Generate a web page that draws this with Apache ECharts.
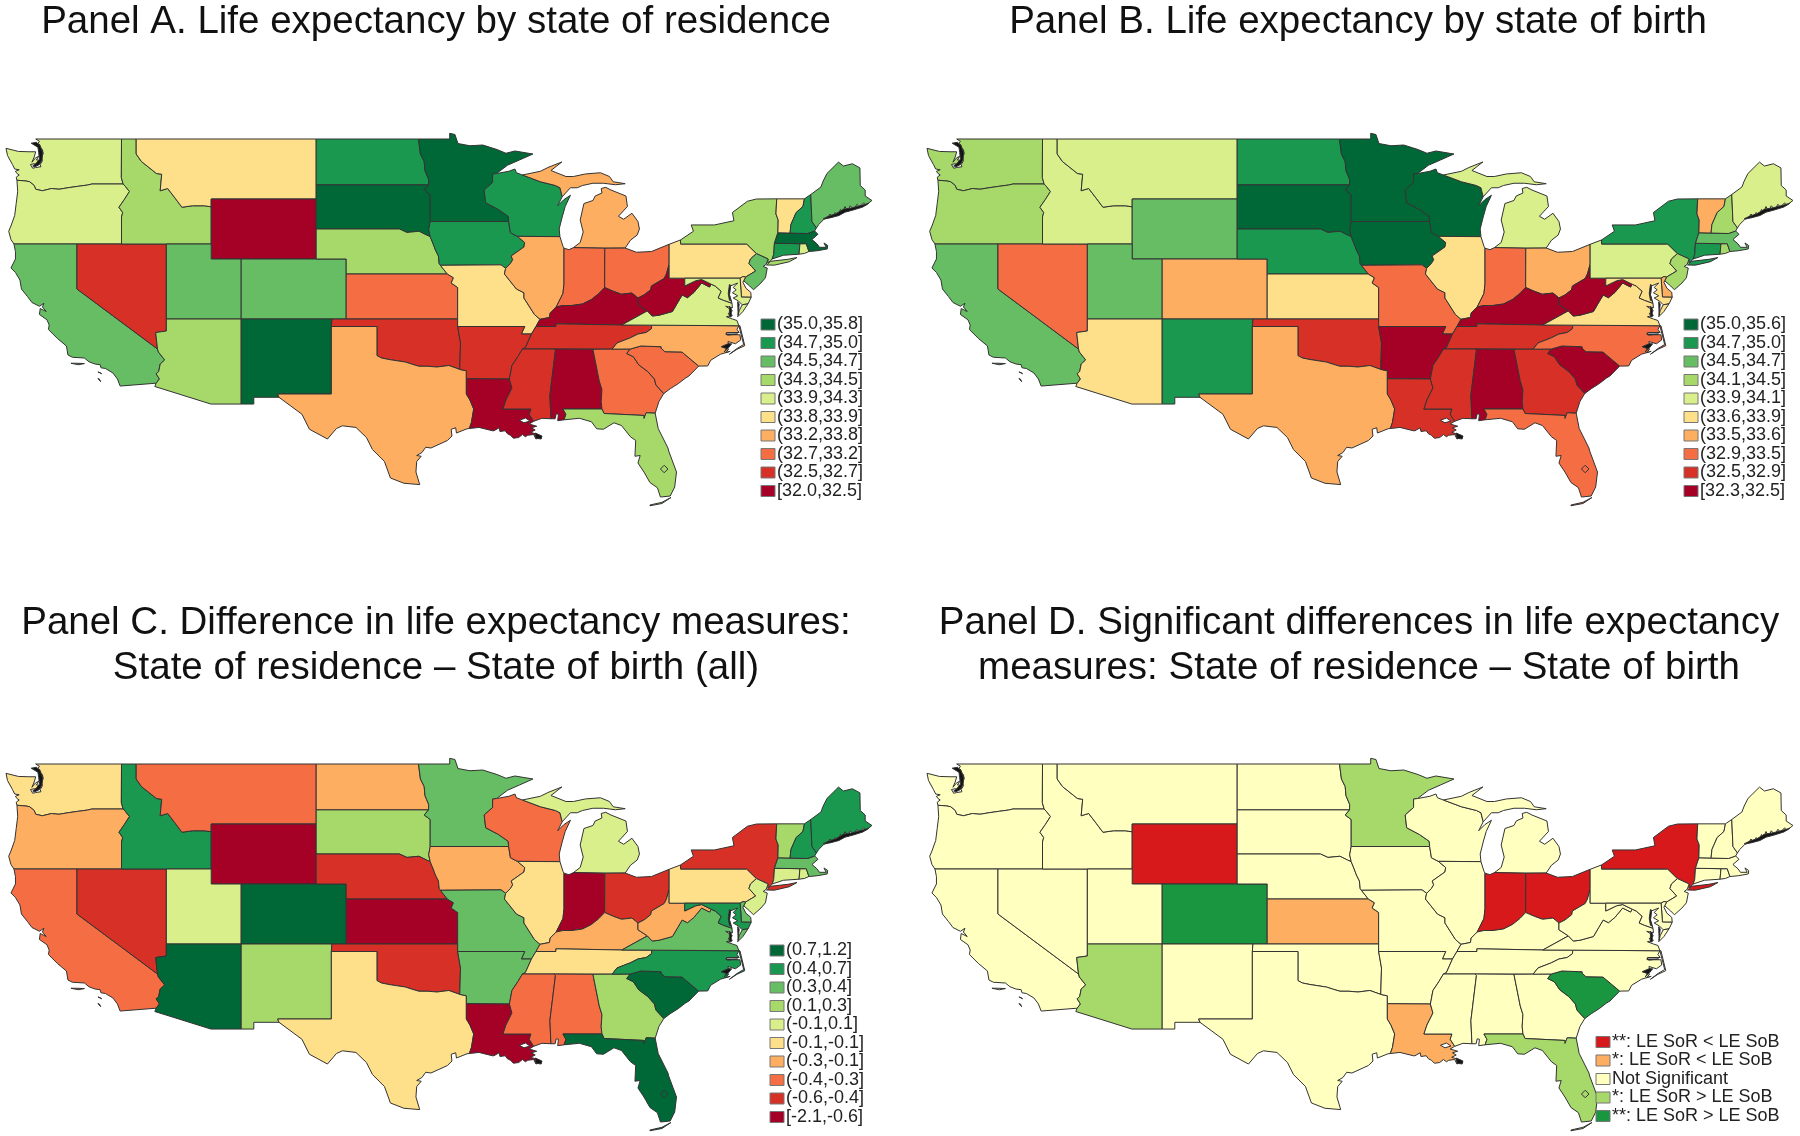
<!DOCTYPE html>
<html>
<head>
<meta charset="utf-8">
<style>html,body{margin:0;padding:0;background:#fff}#c{width:1800px;height:1136px}</style>
<script src="https://cdn.jsdelivr.net/npm/echarts@6/dist/echarts.min.js"></script>
</head>
<body>
<div id="c"></div>
<script>
// ---------- chart values (class index into each panel's legend) ----------
const states = ['WA','OR','CA','NV','ID','MT','WY','UT','AZ','CO','NM','ND','SD','NE','KS','OK','TX','MN','IA','MO','AR','LA','WI','IL','MI','IN','OH','KY','TN','MS','AL','GA','FL','SC','NC','VA','WV','PA','NY','NJ','DE','MD','CT','RI','MA','VT','NH','ME'];
const panelAClass = [4,4,2,8,3,5,9,2,3,2,0,1,0,3,7,8,6,0,1,5,8,9,1,6,6,7,7,9,8,8,9,7,3,7,6,4,9,5,3,2,5,4,1,4,0,5,1,2];
const panelBClass = [3,3,2,7,4,4,2,2,5,6,1,1,0,1,5,8,6,0,0,7,9,8,0,5,4,7,6,9,8,8,9,8,7,9,7,5,9,4,1,3,6,5,1,3,2,6,3,4];
const panelCClass = [5,6,7,8,1,7,9,4,0,0,3,6,3,8,9,8,5,2,6,2,2,9,7,5,4,9,8,6,5,7,7,3,0,0,1,2,6,5,8,4,2,1,4,4,2,3,1,1];
const panelDClass = [2,2,2,2,2,2,0,2,3,4,2,2,2,2,1,2,2,3,2,2,2,1,2,2,2,0,0,2,2,2,2,2,3,4,2,2,2,2,0,2,2,2,2,2,2,2,2,2];
const panelALabels = ['(35.0,35.8]','(34.7,35.0]','(34.5,34.7]','(34.3,34.5]','(33.9,34.3]','(33.8,33.9]','(33.2,33.8]','(32.7,33.2]','(32.5,32.7]','[32.0,32.5]'];
const panelBLabels = ['(35.0,35.6]','(34.7,35.0]','(34.5,34.7]','(34.1,34.5]','(33.9,34.1]','(33.6,33.9]','(33.5,33.6]','(32.9,33.5]','(32.5,32.9]','[32.3,32.5]'];
const panelCLabels = ['(0.7,1.2]','(0.4,0.7]','(0.3,0.4]','(0.1,0.3]','(-0.1,0.1]','(-0.1,-0.1]','(-0.3,-0.1]','(-0.4,-0.3]','(-0.6,-0.4]','[-2.1,-0.6]'];
const panelDLabels = ['**: LE SoR < LE SoB','*: LE SoR < LE SoB','Not Significant','*: LE SoR > LE SoB','**: LE SoR > LE SoB'];
const palette10 = ['#006837','#1a9850','#66bd63','#a6d96a','#d9ef8b','#fee08b','#fdae61','#f46d43','#d73027','#a50026'];
const palette5 = ['#d7191c','#fdae61','#ffffbf','#a6d96a','#1a9641'];
const titles = ['Panel A. Life expectancy by state of residence','Panel B. Life expectancy by state of birth','Panel C. Difference in life expectancy measures:\nState of residence \u2013 State of birth (all)','Panel D. Significant differences in life expectancy\nmeasures: State of residence \u2013 State of birth'];

// ---------- basemap: shared state borders in lon/lat ----------
const arcs = {
waCoast:[[-122.75,49],[-122.5,48.85],[-122.6,48.7],[-122.45,48.6],[-122.55,48.45],[-122.3,48.3],[-122.25,48.0],[-122.4,47.8],[-122.3,47.55],[-122.45,47.3],[-122.4,47.15],[-122.75,47.1],[-122.95,47.05],[-123.1,47.3],[-122.85,47.35],[-122.6,47.3],[-122.55,47.6],[-122.7,47.6],[-122.55,47.85],[-122.75,47.75],[-123.0,47.45],[-122.85,47.8],[-122.75,48.15],[-123.2,48.15],[-123.9,48.17],[-124.73,48.38],[-124.63,47.9],[-124.3,47.3],[-124.15,47.0],[-123.85,46.95],[-124.1,46.85],[-124.0,46.7],[-123.85,46.6],[-124.05,46.45],[-124.0,46.25]],
waOr:[[-124.0,46.25],[-123.4,46.2],[-123.15,46.15],[-122.85,45.9],[-122.75,45.65],[-122.3,45.55],[-121.7,45.7],[-121.2,45.65],[-120.6,45.75],[-119.9,45.85],[-119.3,45.93],[-119.0,46.0],[-116.92,46.0]],
waId:[[-117.03,49],[-117.04,46.42],[-116.92,46.0]],
orCoast:[[-124.0,46.25],[-123.95,45.5],[-124.05,44.7],[-124.15,43.9],[-124.4,43.2],[-124.55,42.85],[-124.4,42.3],[-124.2,42]],
orCa:[[-124.2,42],[-120,42]],
orNv:[[-120,42],[-117.03,42]],
orId:[[-116.92,46.0],[-116.78,45.85],[-116.5,45.5],[-116.85,44.95],[-117.2,44.45],[-116.95,44.1],[-117.03,43.8],[-117.03,42]],
caCoast:[[-124.2,42],[-124.1,41.5],[-124.1,41.0],[-124.4,40.4],[-124.1,40.1],[-123.8,39.6],[-123.7,39.0],[-123.3,38.5],[-123.0,38.1],[-122.5,37.85],[-122.2,38.05],[-122.3,37.8],[-122.05,37.5],[-122.45,37.7],[-122.5,37.3],[-122.0,36.95],[-121.85,36.6],[-121.9,36.3],[-121.3,35.7],[-120.7,35.2],[-120.6,34.6],[-120.3,34.45],[-119.5,34.4],[-119.2,34.15],[-118.8,34.0],[-118.45,33.95],[-118.4,33.75],[-118.1,33.7],[-117.6,33.4],[-117.3,33.0],[-117.12,32.53]],
caNv:[[-120,42],[-120,39],[-114.63,35]],
caAz:[[-114.63,35],[-114.57,34.8],[-114.15,34.27],[-114.45,34.0],[-114.55,33.5],[-114.72,33.35],[-114.5,33.0],[-114.72,32.72]],
caMex:[[-114.72,32.72],[-117.12,32.53]],
nvId:[[-117.03,42],[-114.04,42]],
nvUt:[[-114.04,42],[-114.04,37]],
nvAz:[[-114.04,37],[-114.04,36.2],[-114.75,36.1],[-114.63,35]],
idMt:[[-116.05,49],[-116.05,48],[-115.7,47.5],[-114.7,46.7],[-114.35,46.65],[-114.45,45.55],[-113.95,45.7],[-113.45,45.05],[-113.0,44.45],[-112.3,44.55],[-111.5,44.55],[-111.05,44.48]],
idWy:[[-111.05,44.48],[-111.05,42]],
idUt:[[-111.05,42],[-114.04,42]],
ndMn:[[-97.23,49],[-97.1,48],[-96.85,47.5],[-96.8,46.9],[-96.55,46.3],[-96.56,45.94]],
mnNorth:[[-97.23,49],[-95.15,49],[-95.15,49.38],[-94.8,49.3],[-94.6,48.7],[-93.8,48.55],[-92.95,48.6],[-92.0,48.3],[-91.4,48.05],[-90.8,48.2],[-89.6,48.0],[-90.5,47.6],[-91.3,47.25],[-92.02,46.7]],
sdMn:[[-96.56,45.94],[-96.85,45.6],[-96.45,45.3],[-96.45,43.5]],
sdIa:[[-96.45,43.5],[-96.55,42.95],[-96.45,42.49]],
sdNe:[[-104.05,43],[-98.5,43],[-98.0,42.77],[-97.2,42.85],[-96.7,42.6],[-96.45,42.49]],
neIa:[[-96.45,42.49],[-96.25,42.0],[-96.1,41.6],[-95.9,41.2],[-95.85,40.7],[-95.77,40.58]],
neMo:[[-95.77,40.58],[-95.31,40]],
ksMo:[[-95.31,40],[-94.9,39.75],[-95.05,39.4],[-94.62,39.1],[-94.62,37]],
okAr:[[-94.62,36.5],[-94.43,35.4],[-94.48,33.64]],
okTx:[[-94.48,33.64],[-95.2,33.9],[-96.0,33.8],[-96.6,33.85],[-97.2,33.85],[-97.7,34.0],[-98.1,34.13],[-99.2,34.3],[-99.7,34.4],[-100,34.56],[-100,36.5],[-103.04,36.5]],
txGulf:[[-106.53,31.78],[-105.0,30.65],[-104.5,29.65],[-103.3,29.0],[-102.7,29.7],[-102.3,29.88],[-101.4,29.77],[-100.7,29.1],[-100.3,28.3],[-99.5,27.5],[-99.1,26.4],[-98.2,26.05],[-97.15,25.96],[-97.4,26.8],[-97.35,27.5],[-97.05,27.85],[-97.35,27.9],[-97.0,28.1],[-96.75,28.45],[-96.4,28.4],[-95.3,28.9],[-95.0,29.2],[-95.05,29.65],[-94.75,29.75],[-94.7,29.4],[-94.0,29.68],[-93.84,29.7]],
txLa:[[-93.84,29.7],[-93.7,30.1],[-93.55,31.0],[-93.8,31.6],[-94.04,32.0],[-94.04,33.02]],
txAr:[[-94.04,33.02],[-94.04,33.55],[-94.48,33.64]],
mnWi:[[-92.02,46.7],[-92.29,46.66],[-92.29,46.1],[-92.85,45.6],[-92.75,44.75],[-91.9,44.3],[-91.25,43.85],[-91.22,43.5]],
iaWi:[[-91.22,43.5],[-91.1,42.75],[-90.64,42.51]],
iaIl:[[-90.64,42.51],[-90.15,42.1],[-90.2,41.8],[-91.05,41.2],[-90.95,40.95],[-91.1,40.7],[-91.42,40.38]],
iaMo:[[-91.42,40.38],[-91.73,40.61],[-95.77,40.58]],
moIl:[[-91.42,40.38],[-91.5,40.0],[-90.7,39.0],[-90.2,38.75],[-90.2,38.4],[-89.5,37.3],[-89.13,36.98]],
moKy:[[-89.13,36.98],[-89.4,36.5]],
moTn:[[-89.4,36.5],[-89.7,36.0]],
moAr:[[-94.62,36.5],[-90.15,36.5],[-90.37,36.0],[-89.7,36.0]],
arTn:[[-89.7,36.0],[-90.1,35.1],[-90.3,35.0]],
arMs:[[-90.3,35.0],[-90.6,34.5],[-91.0,33.9],[-91.17,33.0]],
laMs:[[-91.17,33.0],[-91.0,32.4],[-91.4,31.6],[-91.6,31.0],[-89.73,31.0],[-89.85,30.65],[-89.55,30.18]],
laCoast:[[-89.55,30.18],[-89.85,30.0],[-89.35,29.85],[-89.7,29.75],[-89.45,29.6],[-89.75,29.45],[-89.3,29.3],[-89.0,29.15],[-89.4,29.0],[-89.55,29.3],[-89.95,29.25],[-90.1,29.15],[-90.3,29.3],[-90.55,29.1],[-90.9,29.05],[-91.1,29.25],[-91.3,29.35],[-91.45,29.55],[-91.8,29.5],[-91.85,29.75],[-92.2,29.55],[-92.3,29.55],[-93.2,29.77],[-93.84,29.7]],
msAl:[[-88.2,35],[-88.1,34.9],[-88.47,31.9],[-88.4,30.35]],
msCoast:[[-89.55,30.18],[-89.0,30.38],[-88.4,30.35]],
alGa:[[-85.6,34.98],[-85.18,32.87],[-85.0,32.3],[-85.05,31.5],[-85.0,31.0]],
alFl:[[-85.0,31.0],[-87.6,31.0],[-87.4,30.65],[-87.52,30.28]],
alCoast:[[-87.52,30.28],[-87.95,30.22],[-87.9,30.65],[-88.05,30.68],[-88.12,30.35],[-88.4,30.35]],
gaSc:[[-83.11,35],[-83.35,34.7],[-82.9,34.48],[-82.55,33.95],[-81.95,33.5],[-81.5,33.0],[-81.4,32.6],[-80.88,32.03]],
gaCoast:[[-80.88,32.03],[-81.2,31.5],[-81.45,30.72]],
gaFl:[[-81.45,30.72],[-82.05,30.75],[-82.2,30.37],[-82.2,30.57],[-84.86,30.7],[-85.0,31.0]],
flCoast:[[-87.52,30.28],[-86.5,30.38],[-85.7,30.15],[-85.35,29.68],[-84.9,29.65],[-84.2,30.08],[-83.7,29.9],[-83.1,29.15],[-82.75,28.9],[-82.8,27.85],[-82.45,27.9],[-82.6,27.4],[-82.2,26.8],[-81.8,26.1],[-81.3,25.75],[-81.1,25.13],[-80.45,25.2],[-80.15,25.8],[-80.03,26.8],[-80.55,28.2],[-80.6,28.4],[-81.25,29.7],[-81.45,30.72]],
ncSc:[[-83.11,35],[-82.4,35.2],[-81.05,35.15],[-81.05,35.05],[-80.8,34.82],[-79.67,34.8],[-78.55,33.86]],
scCoast:[[-78.55,33.86],[-79.2,33.2],[-79.45,33.05],[-79.9,32.7],[-80.45,32.35],[-80.88,32.03]],
ncCoast:[[-75.87,36.55],[-76.0,36.3],[-75.85,36.1],[-76.7,36.1],[-76.7,35.95],[-75.8,35.95],[-75.75,35.6],[-76.1,35.35],[-76.6,35.5],[-76.55,35.3],[-77.0,35.15],[-76.55,35.0],[-76.75,34.75],[-76.45,34.85],[-77.1,34.65],[-77.75,34.25],[-77.95,33.87],[-78.55,33.86]],
tnNc:[[-81.68,36.59],[-81.7,36.35],[-82.05,36.1],[-82.6,36.0],[-83.1,35.75],[-84.0,35.4],[-84.32,34.99]],
ilKy:[[-88.05,37.8],[-88.45,37.4],[-88.5,37.1],[-89.13,36.98]],
ilIn:[[-87.53,41.72],[-87.53,39.35],[-87.6,38.7],[-87.95,38.0],[-88.05,37.8]],
ilLake:[[-87.8,42.49],[-87.6,41.85],[-87.53,41.72]],
inKy:[[-84.82,39.1],[-85.2,38.7],[-85.7,38.3],[-86.3,38.0],[-87.0,37.9],[-87.6,37.9],[-88.05,37.8]],
ohKy:[[-82.6,38.4],[-83.0,38.73],[-83.7,38.65],[-84.25,38.85],[-84.82,39.1]],
ohWv:[[-80.52,40.64],[-80.7,40.0],[-80.85,39.7],[-81.7,39.2],[-81.75,38.95],[-82.2,38.6],[-82.6,38.4]],
kyWv:[[-82.6,38.4],[-82.6,37.95],[-81.97,37.54]],
vaWv:[[-81.97,37.54],[-81.65,37.2],[-81.2,37.25],[-80.3,37.5],[-79.95,38.1],[-79.65,38.6],[-79.3,38.42],[-78.87,38.77],[-78.35,39.4],[-77.83,39.13],[-77.72,39.32]],
vaMd:[[-77.72,39.32],[-77.45,39.2],[-77.05,38.85],[-77.25,38.4],[-76.9,38.25],[-76.33,38.05]],
wvMd:[[-79.48,39.72],[-79.48,39.2],[-78.75,39.55],[-78.35,39.63],[-77.72,39.32]],
wiMi:[[-90.3,46.6],[-89.1,46.15],[-88.1,45.9],[-87.8,45.75],[-87.65,45.15]],
wiLake:[[-87.65,45.15],[-87.95,44.55],[-87.55,44.95],[-87.1,45.25],[-87.45,44.5],[-87.65,43.8],[-87.85,43.0],[-87.8,42.49]],
paNj:[[-74.7,41.36],[-75.1,41.0],[-75.2,40.7],[-74.75,40.2],[-75.42,39.8]],
nyVt:[[-73.35,45.01],[-73.4,44.0],[-73.25,43.6],[-73.27,42.75]],
vtNh:[[-71.5,45.01],[-71.6,44.5],[-72.05,44.1],[-72.4,43.3],[-72.46,42.73]],
nhMe:[[-71.08,45.3],[-71.0,43.5],[-70.7,43.07]]
};
const shapes = {
WA:[['waCoast','waOr','-waId']],
OR:[['orCoast','orCa','orNv','-orId','-waOr']],
CA:[['caCoast','-caMex','-caAz','-caNv','-orCa'],[[-120.4,34.05],[-119.9,33.95],[-119.5,34.03],[-120.0,34.05]],[[-118.6,33.47],[-118.35,33.35],[-118.45,33.42]],[[-118.6,33.03],[-118.42,32.82],[-118.5,33.0]]],
NV:[['orNv','nvId','nvUt','nvAz','-caNv']],
ID:[[[-117.03,49],'idMt','idWy','idUt','-nvId','-orId','-waId']],
MT:[[[-116.05,49],[-104.05,49],[-104.05,45],[-111.05,45],'-idMt']],
WY:[[[-111.05,45],[-104.05,45],[-104.05,41],[-111.05,41]]],
UT:[[[-114.04,42],[-111.05,42],[-111.05,41],[-109.05,41],[-109.05,37],[-114.04,37]]],
AZ:[[[-114.04,37],[-109.05,37],[-109.05,31.33],[-111.07,31.33],[-114.81,32.5],'-caAz','-nvAz']],
CO:[[[-109.05,41],[-102.05,41],[-102.05,37],[-109.05,37]]],
NM:[[[-109.05,37],[-103,37],[-103.04,36.5],[-103.04,32],[-106.62,32],[-106.53,31.78],[-108.21,31.78],[-108.21,31.33],[-109.05,31.33]]],
ND:[[[-104.05,49],'ndMn',[-104.05,45.94]]],
SD:[[[-104.05,45.94],'sdMn','sdIa','-sdNe']],
NE:[['sdNe','neIa','neMo',[-102.05,40],[-102.05,41],[-104.05,41]]],
KS:[[[-102.05,40],'ksMo',[-102.05,37]]],
OK:[[[-103,37],[-94.62,37],'okAr','okTx']],
TX:[[[-103.04,36.5],[-103.04,32],[-106.62,32],'txGulf','txLa','txAr','okTx']],
MN:[['mnNorth','mnWi',[-96.45,43.5],'-sdMn','-ndMn']],
IA:[[[-96.45,43.5],'iaWi','iaIl','iaMo','-neIa','-sdIa']],
MO:[['-iaMo','moIl','moKy','moTn','-moAr',[-94.62,37],'-ksMo','-neMo']],
AR:[['moAr','arTn','arMs','txAr','-okAr']],
LA:[[[-94.04,33.02],'laMs','laCoast','txLa'],'hole:lakeP'],
WI:[[[-92.02,46.7],[-91.2,46.85],[-90.8,47.0],[-90.7,46.75],'wiMi','wiLake',[-90.64,42.51],'-iaWi','-mnWi']],
IL:[[[-90.64,42.51],'ilLake','ilIn','ilKy','-moIl','-iaIl']],
MI:[[[-86.9,41.76],[-86.45,42.1],[-86.25,42.8],[-86.45,43.6],[-86.2,44.7],[-85.6,44.9],[-85.45,45.2],[-85.0,45.4],[-85.05,45.7],[-84.75,45.78],[-84.4,45.6],[-83.4,45.2],[-83.3,44.5],[-83.9,43.85],[-83.55,43.65],[-83.0,44.05],[-82.6,43.5],[-82.5,43.0],[-82.65,42.6],[-83.1,42.25],[-83.45,41.73],[-84.81,41.72]],
    [[-89.1,46.85],[-88.6,47.1],[-87.67,47.47],[-88.4,46.9],[-87.4,46.5],[-86.9,46.5],[-86.1,46.67],[-85.1,46.75],[-84.5,46.5],[-84.25,46.15],[-83.45,46.02],[-84.1,45.95],[-84.9,46.05],[-85.6,46.05],[-86.3,45.9],[-86.65,45.75],[-87.1,45.75],'-wiMi']],
IN:[[[-87.53,41.72],[-87.2,41.62],[-86.9,41.76],[-84.81,41.72],'inKy','-ilIn']],
OH:[[[-84.81,41.72],[-83.45,41.73],[-82.7,41.45],[-81.7,41.5],[-80.52,41.98],'ohWv','ohKy']],
KY:[['-moKy','-ilKy','-inKy','-ohKy','kyWv',[-83.68,36.6],[-88.07,36.68],[-88.07,36.5]]],
TN:[[[-89.4,36.5],[-88.07,36.5],[-88.07,36.68],[-83.68,36.6],'tnNc',[-88.2,35],'-arTn','-moTn']],
MS:[[[-90.3,35],'msAl','-msCoast','-laMs','-arMs']],
AL:[[[-88.2,35],'alGa','alFl','alCoast','-msAl']],
GA:[[[-85.6,34.98],'gaSc','gaCoast','gaFl','-alGa']],
FL:[['flCoast','gaFl','alFl'],[[-81.8,24.55],[-81.0,24.7],[-80.4,25.1],[-80.45,25.15],[-81.0,24.78],[-81.8,24.6]]],
SC:[['ncSc','scCoast','-gaSc']],
NC:[[[-84.32,34.99],'ncSc','-ncCoast','tnNc'],[[-75.87,36.55],[-75.55,35.3],[-76.0,35.03],[-76.5,34.65],[-76.52,34.62],[-76.0,34.98],[-75.48,35.22],[-75.8,36.55]]],
VA:[['vaWv','vaMd',[-76.3,37.75],[-76.75,37.85],[-76.3,37.55],[-76.6,37.35],[-76.3,37.25],[-76.7,37.15],[-76.3,37.0],[-76.0,36.9],[-75.87,36.55],[-81.68,36.59],[-83.68,36.6]],[[-75.95,37.15],[-75.85,37.55],[-75.65,37.95],[-75.25,38.03],[-75.6,37.5]]],
WV:[[[-80.52,40.64],[-80.52,39.72],'wvMd','-vaWv','-kyWv','-ohWv']],
PA:[[[-80.52,41.98],[-79.76,42.27],[-79.76,42],[-75.35,42],'paNj',[-75.6,39.83],[-75.79,39.72],[-80.52,39.72],[-80.52,40.64]]],
NY:[[[-79.76,42.27],[-78.9,42.85],[-79.05,43.27],[-77.5,43.27],[-76.2,43.55],[-76.3,44.1],[-75.3,44.85],[-74.7,45.0],'nyVt',[-73.5,42.05],[-73.55,41.3],[-73.65,41.0],[-73.85,40.8],[-73.95,40.75],[-73.92,41.0],[-74.7,41.36],[-75.35,42],[-79.76,42]],[[-74.03,40.6],[-73.75,40.85],[-72.6,40.98],[-72.0,41.1],[-72.5,40.82],[-73.5,40.59]]],
NJ:[[[-73.92,41.0],[-74.05,40.65],[-74.25,40.5],[-73.98,40.4],[-74.1,39.75],[-74.4,39.4],[-74.9,38.95],[-75.15,39.2],[-75.55,39.55],'-paNj']],
DE:[[[-75.79,39.72],[-75.6,39.83],[-75.42,39.8],[-75.6,39.45],[-75.4,39.05],[-75.08,38.78],[-75.05,38.45],[-75.7,38.46]]],
MD:[[[-79.48,39.72],[-75.79,39.72],[-75.7,38.46],[-75.05,38.45],[-75.25,38.03],[-75.65,37.95],[-75.9,38.2],[-76.25,38.4],[-75.95,38.55],[-76.3,38.75],[-76.05,38.95],[-76.25,39.1],[-75.95,39.4],[-76.45,39.2],[-76.5,38.6],[-76.4,38.3],'-vaMd','-wvMd']],
CT:[[[-73.5,42.05],[-71.8,42.02],[-71.86,41.32],[-72.9,41.25],[-73.65,41.0],[-73.55,41.3]]],
RI:[[[-71.8,42.02],[-71.38,42.02],[-71.2,41.5],[-71.5,41.37],[-71.86,41.32]]],
MA:[[[-73.27,42.75],[-72.46,42.73],[-71.3,42.7],[-70.82,42.87],[-70.6,42.65],[-71.0,42.3],[-70.65,42.0],[-70.5,41.78],[-70.05,41.78],[-70.2,42.07],[-69.95,41.9],[-69.98,41.67],[-70.65,41.55],[-71.2,41.5],[-71.38,42.02],[-71.8,42.02],[-73.5,42.05]]],
VT:[[[-73.35,45.01],'vtNh',[-73.27,42.75],'-nyVt']],
NH:[[[-71.5,45.01],'nhMe',[-70.82,42.87],[-71.3,42.7],'-vtNh']],
ME:[[[-71.08,45.3],[-70.4,45.8],[-70.25,46.2],[-70.0,46.7],[-69.23,47.46],[-68.9,47.2],[-68.3,47.35],[-67.8,47.07],[-67.78,45.9],[-67.45,45.6],[-67.45,45.2],[-67.0,44.9],[-67.45,44.55],[-67.55,44.75],[-67.85,44.45],[-68.0,44.65],[-68.2,44.3],[-68.45,44.55],[-68.6,44.15],[-68.8,44.5],[-68.95,44.05],[-69.1,44.3],[-69.25,43.9],[-69.45,44.1],[-69.6,43.8],[-69.8,44.0],[-69.95,43.72],[-70.2,43.65],[-70.55,43.3],'-nhMe']]
};
const holes = {
 lakeP:[[-90.5,30.25],[-90.2,30.08],[-89.8,30.2],[-90.1,30.4]]
};
// Lake Okeechobee: outlined, but filled like Florida
const lakeOkeechobee = [[-80.85,27.25],[-80.6,27.0],[-80.85,26.75],[-81.1,27.0]];
// the dense shoreline tangles that print as solid black in the reference
const shoreline = [
 [[-123.05,48.72],[-122.7,48.78],[-122.45,48.55],[-122.28,48.1],[-122.33,47.6],[-122.5,47.3],[-122.8,47.15],[-122.95,47.2],[-122.75,47.35],[-122.5,47.65],[-122.55,48.1],[-122.6,48.45]],
 [[-67.2,44.72],[-67.8,44.55],[-68.3,44.42],[-68.9,44.32],[-69.4,44.02],[-69.9,43.85],[-70.25,43.68],[-70.2,43.62],[-69.8,43.74],[-69.2,43.9],[-68.8,44.12],[-68.2,44.28],[-67.6,44.47]],
 [[-76.5,39.3],[-76.42,39.25],[-76.5,38.6],[-76.4,38.2],[-76.5,38.25],[-76.58,38.7]],
 [[-75.95,38.15],[-75.85,38.0],[-75.92,37.25],[-75.98,37.3]],
 [[-76.5,37.85],[-76.38,37.7],[-76.38,37.15],[-76.5,37.15]],
 [[-76.75,36.0],[-75.95,36.0],[-75.95,35.95],[-76.6,35.93]],
 [[-77.05,35.15],[-76.6,35.35],[-76.35,35.35],[-76.55,35.1],[-76.85,34.8],[-76.7,35.03]],
 [[-89.45,29.4],[-89.0,29.2],[-89.05,29.0],[-89.4,29.05]]
];
function ring(parts){
  const out=[];
  parts.forEach(p=>{
    if(typeof p==='string'){
      const r=p[0]==='-', a=arcs[r?p.slice(1):p];
      out.push(...(r?a.slice().reverse():a));
    } else out.push(p);
  });
  if(out[0][0]!==out[out.length-1][0]||out[0][1]!==out[out.length-1][1]) out.push(out[0]);
  return out;
}
const features = states.map(s=>{
  const polys=[];
  shapes[s].forEach(p=>{
    if(typeof p==='string') polys[polys.length-1].push(ring(holes[p.slice(5)]));
    else polys.push([ring(p)]);
  });
  return {type:'Feature',properties:{name:s},geometry:{type:'MultiPolygon',coordinates:polys}};
});
features.push({type:'Feature',properties:{name:'Lake Okeechobee'},geometry:{type:'Polygon',coordinates:[ring(lakeOkeechobee)]}});
features.push({type:'Feature',properties:{name:'shoreline'},geometry:{type:'MultiPolygon',coordinates:shoreline.map(r=>[ring(r)])}});
// one map name per panel, so that ECharts keeps the four choropleths apart
['usaA','usaB','usaC','usaD'].forEach(n=>echarts.registerMap(n,{type:'FeatureCollection',features}));

// ---------- layout ----------
const font='"Liberation Sans", Arial, sans-serif';
const rowPitch=18.5;
const panels=[
 {map:'usaA',cls:panelAClass,labels:panelALabels,pal:palette10,left:6,top:133.3,tx:436,ty:0,lx:761,ly:315.5},
 {map:'usaB',cls:panelBClass,labels:panelBLabels,pal:palette10,left:927,top:133.3,tx:1358,ty:0,lx:1684,ly:315.5},
 {map:'usaC',cls:panelCClass,labels:panelCLabels,pal:palette10,left:6,top:758.3,tx:436,ty:601,lx:770,ly:941.5},
 {map:'usaD',cls:panelDClass,labels:panelDLabels,pal:palette5,left:927,top:758.3,tx:1359,ty:601,lx:1596,ly:1033}
];
const chart=echarts.init(document.getElementById('c'),null,{renderer:'canvas'});
chart.setOption({
 animation:false,
 backgroundColor:'#fff',
 title:panels.map((p,i)=>({text:titles[i],left:p.tx,top:p.ty,textAlign:'center',padding:0,
   textStyle:{fontFamily:font,fontSize:38.5,fontWeight:'normal',color:'#111',lineHeight:45}})),
 visualMap:panels.map((p,i)=>({type:'piecewise',seriesIndex:i,left:p.lx,top:p.ly,orient:'vertical',align:'left',inverse:true,padding:0,
   itemWidth:14,itemHeight:11,itemGap:0.5,itemSymbol:'rect',textGap:2,selectedMode:false,hoverLink:false,showLabel:true,
   textStyle:{fontFamily:font,fontSize:18,color:'#222'},
   outOfRange:{color:'#141414'},
   pieces:p.labels.map((l,k)=>({value:k,label:l,color:p.pal[k]}))})),
 graphic:{elements:panels.flatMap(p=>p.labels.map((l,k)=>({type:'rect',silent:true,z:10,
   shape:{x:p.lx,y:p.ly+3.5+k*rowPitch,width:14,height:11},
   style:{fill:'none',stroke:'#777',lineWidth:1}})))},
 series:panels.map((p,i)=>({type:'map',map:p.map,silent:true,roam:false,aspectScale:1,
   boundingCoords:[[-124.73,49.38],[-66.95,24.9]],
   left:p.left,top:p.top,width:866.7,height:367.2,
   selectedMode:false,label:{show:false},emphasis:{disabled:true},
   itemStyle:{borderColor:'#333',borderWidth:1},
   data:states.map((s,k)=>({name:s,value:p.cls[k]})).concat([
     {name:'Lake Okeechobee',value:p.cls[states.indexOf('FL')]},
     {name:'shoreline',value:-1}])}))
});
</script>
</body>
</html>
